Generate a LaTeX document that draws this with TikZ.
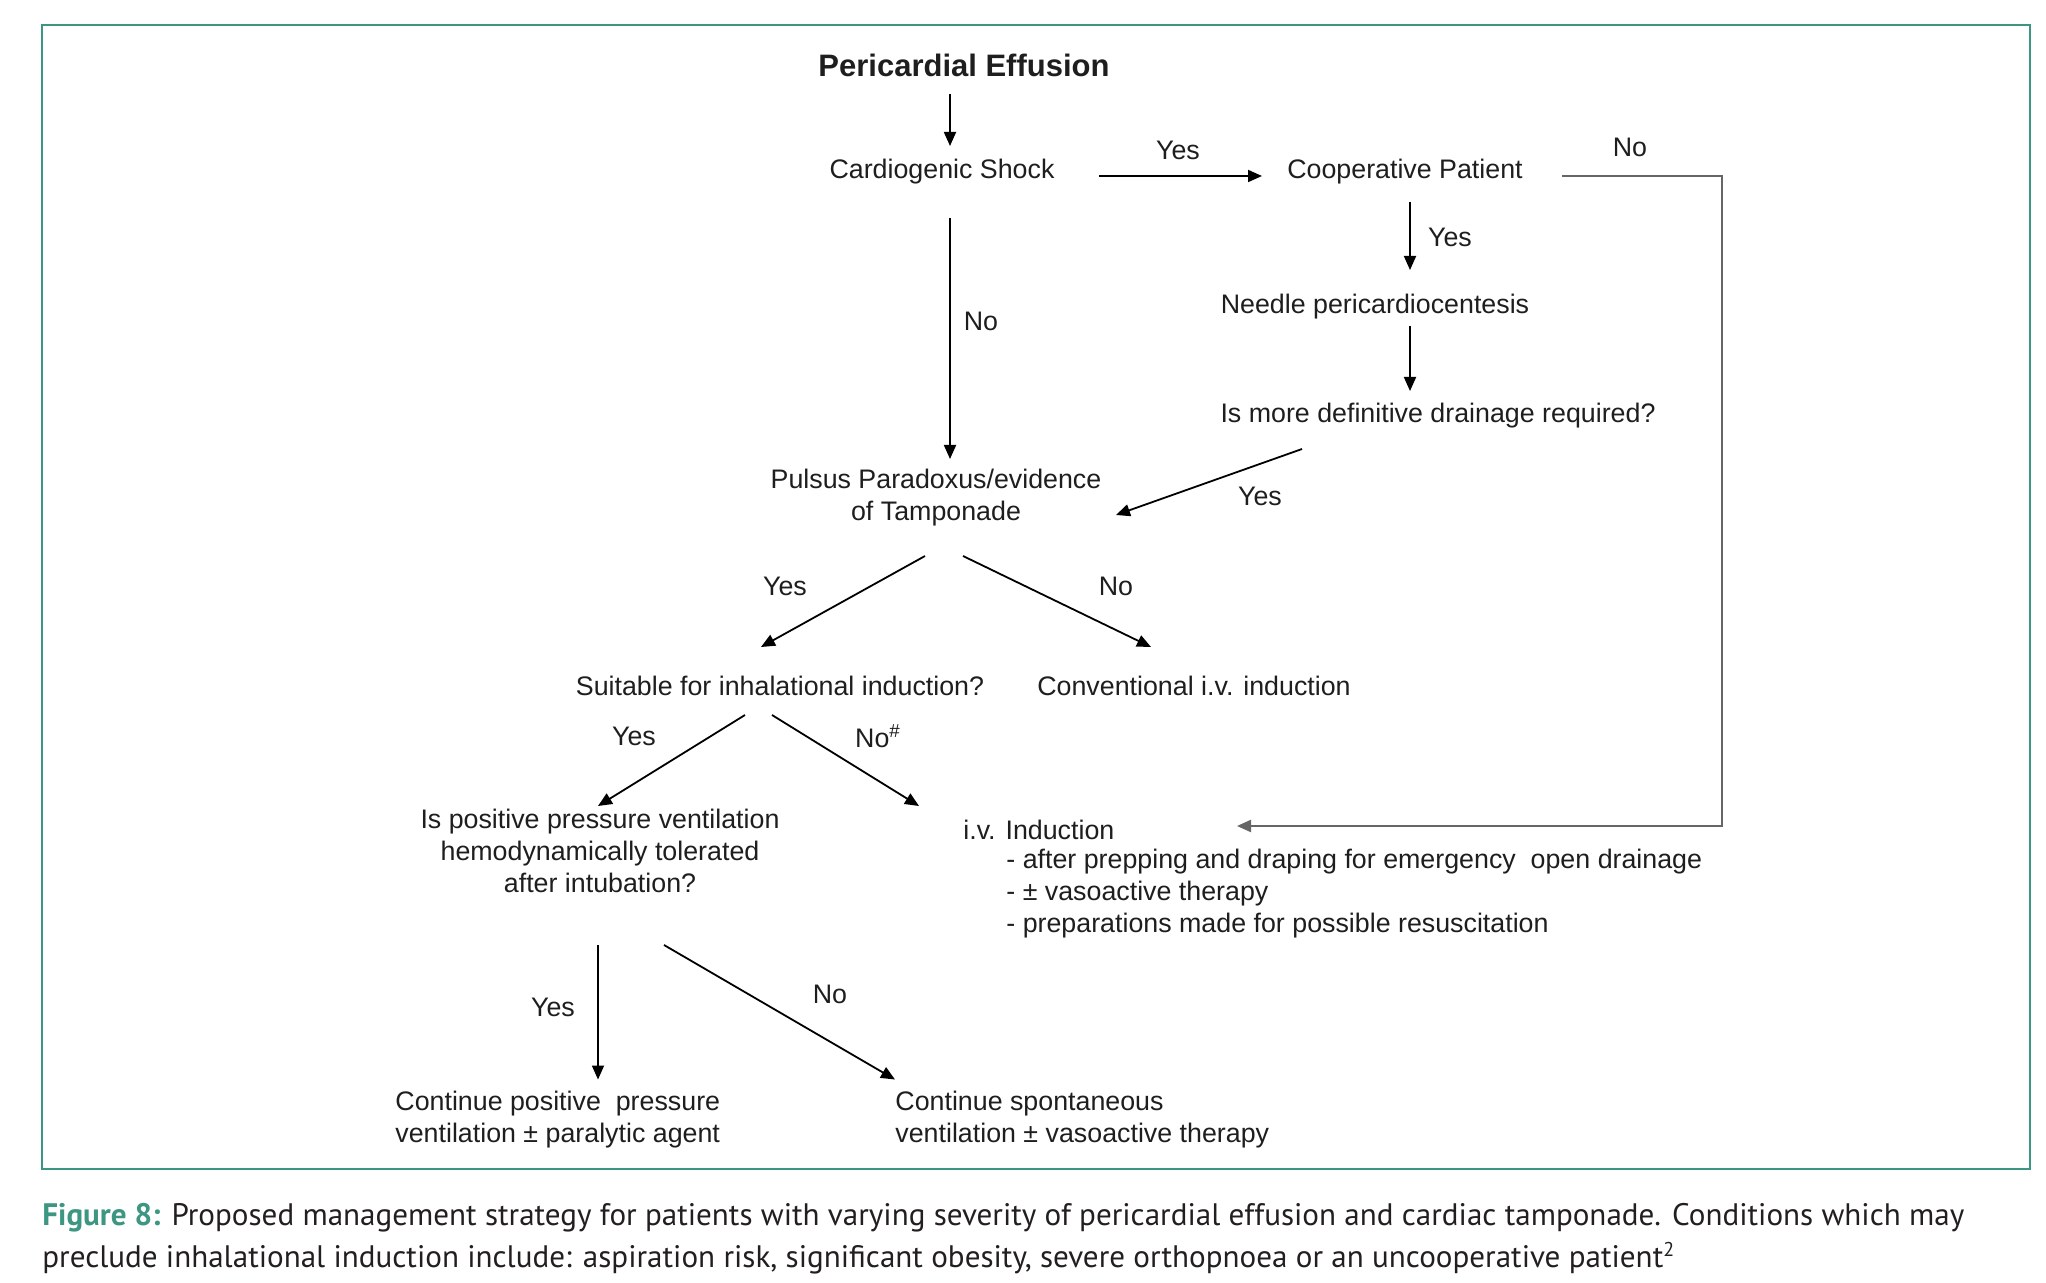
\documentclass[tikz,border=0pt]{standalone}
\usepackage{fontspec}
\setmainfont{Liberation Sans}
\newfontfamily\capfont{PT Sans}
\usetikzlibrary{arrows.meta,calc}
\definecolor{teal1}{RGB}{61,150,130}
\definecolor{ink}{RGB}{30,30,30}
\definecolor{capink}{RGB}{35,31,32}
\begin{document}
\begin{tikzpicture}[x=0.5pt,y=-0.5pt,
 lbl/.style={font=\fontsize{13.4}{16}\selectfont, text=ink, inner sep=0pt, align=center},
 lbll/.style={font=\fontsize{13.4}{16}\selectfont, text=ink, inner sep=0pt, align=left, anchor=west},
 yn/.style={font=\fontsize{13.4}{16}\selectfont, text=ink, inner sep=0pt},
 arr/.style={draw=black, line width=0.9pt, -{Triangle[length=7pt,width=6pt]}},
 grayarr/.style={draw=black!60, line width=1.1pt, -{Triangle[length=7pt,width=6pt]}},
 capt/.style={font=\capfont\fontsize{15.55}{19}\selectfont, text=capink, inner sep=0pt, anchor=west}
 ]
\useasboundingbox (0,0) rectangle (2046,1283);
\draw[teal1, line width=1.1pt] (42,25) rectangle (2030,1169);

% nodes
\node[lbl, font=\bfseries\fontsize{15.5}{18}\selectfont] (title) at (964,65) {Pericardial Effusion};
\node[lbl] (cs) at (942,172) {Cardiogenic Shock};
\node[lbl] (cp) at (1405,172) {Cooperative Patient};
\node[lbl] (np) at (1375,307) {Needle pericardiocentesis};
\node[lbl] (im) at (1438,416) {Is more definitive drainage required?};
\node[lbl] (pp) at (936,498) {Pulsus Paradoxus/evidence\\of Tamponade};
\node[lbl] (sfi) at (780,686) {Suitable for inhalational induction?};
\node[lbl] (conv) at (1194,686) {Conventional i.v. induction};
\node[lbl] (ipp) at (600,851) {Is positive pressure ventilation\\hemodynamically tolerated\\after intubation?};
\node[lbll] (ivt) at (963,830) {i.v. Induction};
\node[lbll] (ivb) at (1006,894) {- after prepping and draping for emergency\ \ open drainage\\- \textpm\ vasoactive therapy\\- preparations made for possible resuscitation};
\node[lbll] (cpp) at (395,1119.5) {Continue positive\ \ pressure\\ventilation \textpm\ paralytic agent};
\node[lbll] (csp) at (895,1119.5) {Continue spontaneous\\ventilation \textpm\ vasoactive therapy};

% labels
\node[yn] (l1) at (1178,150) {Yes};
\node[yn] (l2) at (1630,147) {No};
\node[yn] (l3) at (1450,237) {Yes};
\node[yn] (l4) at (1260,496) {Yes};
\node[yn] (l5) at (981,321) {No};
\node[yn] (l6) at (785,586) {Yes};
\node[yn] (l7) at (1116,586) {No};
\node[yn] (l8) at (634,736) {Yes};
\node[yn] (l9) at (878,736) {No$^{\#}$};
\node[yn] (l10) at (553,1007) {Yes};
\node[yn] (l11) at (830,994) {No};

% connectors
\draw[arr] ($(title.center)+(-14,29)$) -- ($(cs.center)+(8,-26)$);
\draw[arr] ($(cs.center)+(157,4)$) -- ($(cp.center)+(-143,4)$);
\draw[grayarr] ($(cp.center)+(157,4)$) -- ++(160,0) |- ($(ivt.west)+(274,-4)$);
\draw[arr] ($(cp.center)+(5,30)$) -- ($(np.center)+(35,-37)$);
\draw[arr] ($(np.center)+(35,19)$) -- ($(im.center)+(-28,-25)$);
\draw[arr] ($(im.center)+(-136,33)$) -- ($(pp.center)+(180,17)$);
\draw[arr] ($(cs.center)+(8,46)$) -- ($(pp.center)+(14,-39)$);
\draw[arr] ($(pp.center)+(-11,58)$) -- ($(sfi.center)+(-19,-39)$);
\draw[arr] ($(pp.center)+(27,58)$) -- ($(conv.center)+(-43,-39)$);
\draw[arr] ($(sfi.center)+(-35,29)$) -- ($(ipp.center)+(-2,-45)$);
\draw[arr] ($(sfi.center)+(-8,29)$) -- ($(ivt.west)+(-44,-24)$);
\draw[arr] ($(ipp.center)+(-2,94)$) -- ($(cpp.west)+(203,-40)$);
\draw[arr] ($(ipp.center)+(64,94)$) -- ($(csp.west)+(0,-40)$);

% caption
\node[capt] (cap1) at (42,1218) {{\bfseries\color{teal1}Figure 8:} Proposed management strategy for patients with varying severity of pericardial effusion and cardiac tamponade. Conditions which may};
\node[capt] (cap2) at (42,1258) {preclude inhalational induction include: aspiration risk, significant obesity, severe orthopnoea or an uncooperative patient{\fontsize{10}{12}\selectfont\raisebox{0.55em}{2}}};
\end{tikzpicture}
\end{document}
